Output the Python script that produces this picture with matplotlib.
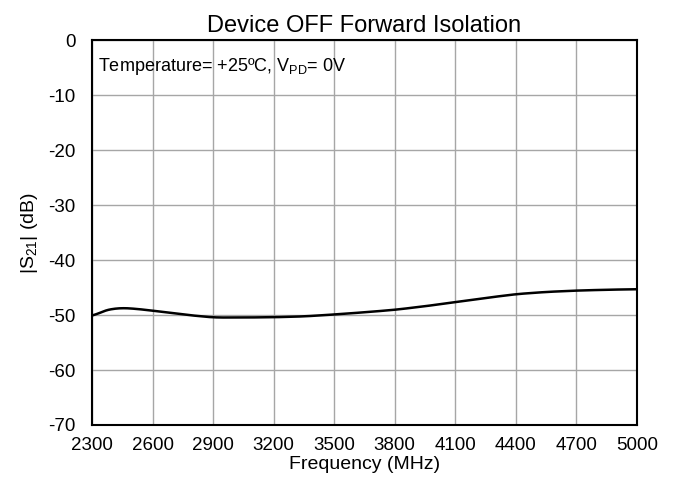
import numpy as np
import matplotlib
matplotlib.use('Agg')
import matplotlib.pyplot as plt

plt.rcParams['font.family'] = ['Liberation Sans', 'DejaVu Sans']
plt.rcParams['mathtext.fontset'] = 'custom'
plt.rcParams['mathtext.rm'] = 'Liberation Sans'
plt.rcParams['mathtext.it'] = 'Liberation Sans'
plt.rcParams['axes.unicode_minus'] = False

# values
freq = [2300, 2340, 2400, 2440, 2500, 2600, 2750, 2900, 3050, 3200, 3350, 3500, 3650,
        3800, 3950, 4100, 4250, 4400, 4550, 4700, 4850, 5000]
s21 = [-50.4, -49.4, -48.85, -48.7, -48.8, -49.2, -49.9, -50.45, -50.45, -50.4, -50.25,
       -49.9, -49.5, -49.05, -48.4, -47.65, -46.9, -46.2, -45.8, -45.55, -45.4, -45.3]

xticks = [2300, 2600, 2900, 3200, 3500, 3800, 4100, 4400, 4700, 5000]
yticks = [0, -10, -20, -30, -40, -50, -60, -70]

fig = plt.figure(figsize=(6.74, 4.9), dpi=100)
ax = fig.add_axes([0.1365, 0.1327, 0.8085, 0.7853])

# smooth the read points a bit for drawing
fx = np.linspace(freq[0], freq[-1], 400)
fy = np.interp(fx, freq, s21)
k = np.ones(15) / 15
fy_s = np.convolve(np.pad(fy, 7, mode='edge'), k, mode='valid')
ax.plot(fx, fy_s, color='black', lw=1.8)

ax.set_xlim(2300, 5000)
ax.set_ylim(-70, 0)
ax.set_xticks(xticks)
ax.set_yticks(yticks)
ax.tick_params(axis='x', length=0, labelsize=13.5, pad=9)
ax.tick_params(axis='y', length=0, labelsize=13.5, pad=12)
ax.grid(True, color='#a6a6a6', lw=1)
for sp in ax.spines.values():
    sp.set_linewidth(1.5)

ax.set_title('Device OFF Forward Isolation', fontsize=17, pad=6)
ax.set_xlabel('Frequency (MHz)', fontsize=14, labelpad=1)
ax.set_ylabel('|S$_{21}$| (dB)', fontsize=14, labelpad=6)
ax.text(2330, -4.8, 'Temperature= +25ºC, V$_{\\mathrm{PD}}$= 0V', fontsize=13, va='center')

fig.savefig('out.png', dpi=100)
